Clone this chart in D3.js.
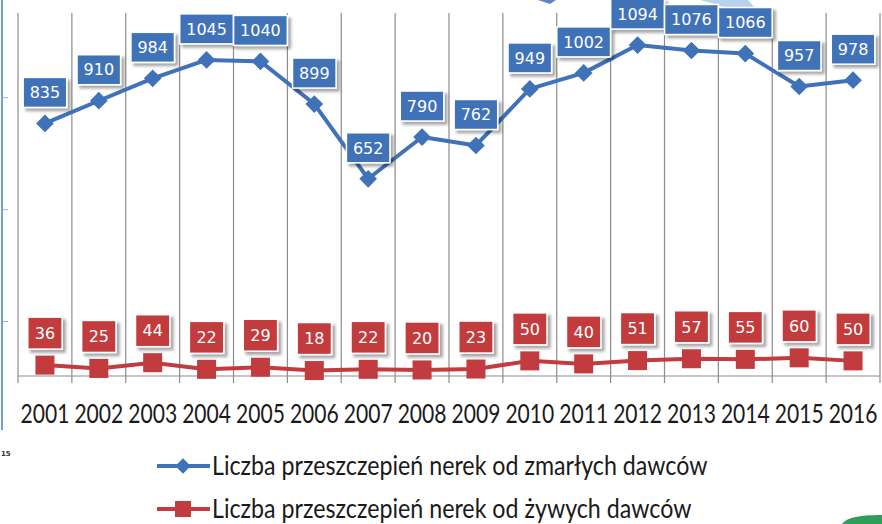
<!DOCTYPE html>
<html>
<head>
<meta charset="utf-8">
<script src="https://cdn.jsdelivr.net/npm/d3@7"></script>
<style>
	body { margin: 0; background: #fff; }
	svg { display: block; }
</style>
</head>
<body>
<svg id="chart" width="882" height="524"></svg>
<script>
var years = ["2001","2002","2003","2004","2005","2006","2007","2008","2009","2010","2011","2012","2013","2014","2015","2016"];
var deceased = [835,910,984,1045,1040,899,652,790,762,949,1002,1094,1076,1066,957,978];
var living = [36,25,44,22,29,18,22,20,23,50,40,51,57,55,60,50];
var seriesNames = ["Liczba przeszczepień nerek od zmarłych dawców", "Liczba przeszczepień nerek od żywych dawców"];
var sideTicks = [180, 550, 920];

buildChart();

function buildChart() {
	var svg = d3.select("#chart");

	var blue = "#3f72b8",
		red = "#c23b3e",
		grid = "#8c8c8c",
		narrowFont = "Lato, 'Open Sans', sans-serif";

	var x = d3.scaleBand()
		.domain(years)
		.range([18, 880]);

	var y = d3.scaleLinear()
		.domain([0, 1200])
		.range([376, 13]);

	// drop shadow for the value boxes
	var defs = svg.append("defs");
	var f = defs.append("filter").attr("id", "shadow")
		.attr("x", "-30%").attr("y", "-30%").attr("width", "160%").attr("height", "160%");
	f.append("feDropShadow")
		.attr("dx", 3).attr("dy", 3).attr("stdDeviation", 1.6)
		.attr("flood-color", "#000").attr("flood-opacity", 0.35);

	// slide leftovers: blue border on the left, stray shapes
	svg.append("line")
		.attr("x1", 2).attr("x2", 2).attr("y1", 0).attr("y2", 430)
		.attr("stroke", "#6fa0d8").attr("stroke-width", 2);
	svg.append("g").selectAll("line")
		.data(sideTicks)
		.enter().append("line")
			.attr("x1", 3).attr("x2", 8)
			.attr("y1", function(d) { return y(d); })
			.attr("y2", function(d) { return y(d); })
			.attr("stroke", "#b0b0b0");
	svg.append("text")
		.attr("x", 1).attr("y", 456)
		.attr("font-family", "DejaVu Sans").attr("font-size", 7).attr("font-weight", "bold")
		.attr("fill", "#333")
		.text("15");
	svg.append("path")
		.attr("d", "M700,0 L748,0 L756,9 L744,12 Z")
		.attr("fill", "#b8d2ee");
	svg.append("path")
		.attr("d", "M538,0 L556,0 L550,4 Z")
		.attr("fill", "#5b86c0");
	svg.append("path")
		.attr("d", "M842,524 C846,518 858,515 882,515 L882,524 Z")
		.attr("fill", "#2f9e5a");

	// vertical category gridlines
	var bounds = years.map(function(d) { return x(d); }).concat([x.range()[1]]);
	svg.append("g")
		.attr("class", "grid")
		.selectAll("line")
		.data(bounds)
		.enter().append("line")
			.attr("x1", function(d) { return d; })
			.attr("x2", function(d) { return d; })
			.attr("y1", y(1200))
			.attr("y2", y(0) + 7)
			.attr("stroke", grid)
			.attr("stroke-width", 1.2);

	svg.append("line")
		.attr("x1", x.range()[0]).attr("x2", x.range()[1])
		.attr("y1", y(0)).attr("y2", y(0))
		.attr("stroke", grid).attr("stroke-width", 1.2);

	// year labels (Lato squeezed horizontally to look like the narrow Calibri of the original)
	svg.append("g")
		.selectAll("text")
		.data(years)
		.enter().append("text")
			.attr("transform", function(d) { return "translate(" + (x(d) + x.bandwidth() / 2) + ",423) scale(0.78,1)"; })
			.attr("text-anchor", "middle")
			.attr("font-family", narrowFont)
			.attr("font-size", 27)
			.attr("fill", "#1a1a1a")
			.text(function(d) { return d; });

	var cx = function(d, i) { return x(years[i]) + x.bandwidth() / 2; };

	var line = d3.line()
		.x(function(d, i) { return cx(d, i); })
		.y(function(d) { return y(d); });

	// deceased donors series
	svg.append("path")
		.datum(deceased)
		.attr("d", line)
		.attr("fill", "none")
		.attr("stroke", blue)
		.attr("stroke-width", 4)
		.attr("stroke-linejoin", "round");

	svg.append("g")
		.selectAll("path")
		.data(deceased)
		.enter().append("path")
			.attr("d", d3.symbol().type(d3.symbolDiamond2).size(200))
			.attr("transform", function(d, i) { return "translate(" + cx(d, i) + "," + y(d) + ")"; })
			.attr("fill", blue);

	// living donors series
	svg.append("path")
		.datum(living)
		.attr("d", line)
		.attr("fill", "none")
		.attr("stroke", red)
		.attr("stroke-width", 4);

	svg.append("g")
		.selectAll("rect")
		.data(living)
		.enter().append("rect")
			.attr("x", function(d, i) { return cx(d, i) - 9.5; })
			.attr("y", function(d) { return y(d) - 9.5; })
			.attr("width", 19)
			.attr("height", 19)
			.attr("fill", red);

	drawLabels(svg, deceased, blue, 30, 6.5);
	drawLabels(svg, living, red, 32, 7);

	function drawLabels(svg, values, fill, h, pad) {
		var g = svg.append("g")
			.selectAll("g")
			.data(values)
			.enter().append("g")
				.attr("transform", function(d, i) { return "translate(" + cx(d, i) + "," + (y(d) - 16 - h / 2) + ")"; });

		var rect = g.append("rect")
			.attr("fill", fill)
			.attr("stroke", "#fff")
			.attr("stroke-width", 1.5)
			.attr("filter", "url(#shadow)");

		var txt = g.append("text")
			.attr("text-anchor", "middle")
			.attr("dy", "0.36em")
			.attr("font-family", "'DejaVu Sans', Verdana, sans-serif")
			.attr("font-size", 16)
			.attr("fill", "#fff")
			.text(function(d) { return d; });

		rect.each(function(d, i) {
			var w = txt.nodes()[i].getComputedTextLength() + pad * 2;
			d3.select(this)
				.attr("x", -w / 2).attr("y", -h / 2)
				.attr("width", w).attr("height", h);
		});
	}

	// legend
	var legend = svg.append("g").attr("class", "legend");
	var rows = legend.selectAll("g")
		.data(seriesNames)
		.enter().append("g")
			.attr("transform", function(d, i) { return "translate(157," + (466 + i * 43) + ")"; });

	rows.append("line")
		.attr("x1", 0).attr("x2", 53)
		.attr("stroke", function(d, i) { return i === 0 ? blue : red; })
		.attr("stroke-width", 4);

	rows.filter(function(d, i) { return i === 0; })
		.append("path")
		.attr("d", d3.symbol().type(d3.symbolDiamond2).size(150))
		.attr("transform", "translate(26,0)")
		.attr("fill", blue);

	rows.filter(function(d, i) { return i === 1; })
		.append("rect")
		.attr("x", 18).attr("y", -8).attr("width", 16).attr("height", 16)
		.attr("fill", red);

	rows.append("text")
		.attr("transform", "translate(55,0) scale(0.86,1)")
		.attr("dy", "0.35em")
		.attr("font-family", narrowFont)
		.attr("font-size", 27)
		.attr("fill", "#1a1a1a")
		.text(function(d) { return d; });
}
</script>
</body>
</html>
